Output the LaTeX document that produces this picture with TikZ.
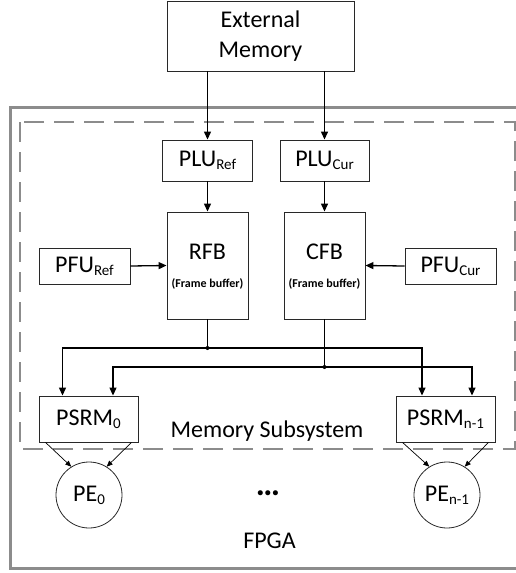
\documentclass[tikz,border=0pt]{standalone}
\usepackage{fontspec}
\setmainfont{Carlito}
\usetikzlibrary{arrows.meta,calc}
\newcommand{\subtxt}[1]{\raisebox{-3pt}{\fontsize{15}{15}\selectfont #1}}
\definecolor{framegray}{RGB}{140,140,140}
\definecolor{boxline}{RGB}{40,40,40}

\begin{document}
\begin{tikzpicture}[x=1pt, y=-1pt,
  box/.style={draw=boxline, line width=0.9pt, inner sep=0pt,
              font=\fontsize{24}{30}\selectfont},
  pecircle/.style={draw=boxline, circle, line width=0.8pt, inner sep=0pt,
                   minimum size=66pt, font=\fontsize{24}{30}\selectfont},
  bigtext/.style={font=\fontsize{24}{30}\selectfont, inner sep=0pt},
  notetext/.style={font=\fontsize{12}{14}\selectfont\bfseries, inner sep=0pt},
  arr/.style={line width=1.3pt, -{Triangle[length=8pt,width=7pt]}},
  thinarr/.style={line width=0.7pt, -{Triangle[length=6pt,width=5pt]}},
  bus/.style={line width=1.3pt},
  fpgaframe/.style={draw=framegray, line width=3pt},
  subframe/.style={draw=framegray, line width=2.5pt, dash pattern=on 20pt off 10pt}
]
\useasboundingbox (0,0) rectangle (516,573);

% FPGA and memory subsystem frames
\draw[fpgaframe] (10,107) rectangle (524,568);
\draw[subframe] (20,122) rectangle (515,449);

% external memory
\node[box, minimum width=187pt, minimum height=70pt, align=center] (ext) at (260.5,36) {External\\Memory};

% line units
\node[box, minimum width=90pt, minimum height=41pt] (plur) at (207.5,160.5) {PLU\subtxt{Ref}};
\node[box, minimum width=89pt, minimum height=41pt] (pluc) at (324.5,160.5) {PLU\subtxt{Cur}};

% frame buffers
\node[box, minimum width=81pt, minimum height=107pt] (rfb) at (207.5,265.5) {};
\node[box, minimum width=81pt, minimum height=107pt] (cfb) at (324.5,265.5) {};
\node[bigtext, anchor=base] (rfbname) at (207.5,259) {RFB};
\node[notetext, anchor=base] (rfbnote) at (207.5,287) {(Frame buffer)};
\node[bigtext, anchor=base] (cfbname) at (324.5,259) {CFB};
\node[notetext, anchor=base] (cfbnote) at (324.5,287) {(Frame buffer)};

% fill units
\node[box, minimum width=91pt, minimum height=36pt] (pfur) at (84.5,266) {PFU\subtxt{Ref}};
\node[box, minimum width=91pt, minimum height=36pt] (pfuc) at (450.5,266) {PFU\subtxt{Cur}};

% search-region memories
\node[box, minimum width=99pt, minimum height=46pt] (psrm0) at (88.5,419) {PSRM\subtxt{0}};
\node[box, minimum width=99pt, minimum height=46pt] (psrmn) at (445.5,419) {PSRM\subtxt{n-1}};

% processing elements
\node[pecircle] (pe0) at (89,495) {PE\subtxt{0}};
\node[pecircle] (pen) at (447,495) {PE\subtxt{n-1}};

% labels
\node[bigtext, anchor=base] (memsub) at (267,437) {Memory Subsystem};
\node[font=\fontsize{34}{34}\selectfont\bfseries, inner sep=0pt] (dots) at (268,493) {…};
\node[bigtext, anchor=base] (fpga) at (269.5,548) {FPGA};

% connections
\draw[arr] (ext.south -| plur.north) -- (plur.north);
\draw[arr] (ext.south -| pluc.north) -- (pluc.north);
\draw[arr] (plur.south) -- (rfb.north);
\draw[arr] (pluc.south) -- (cfb.north);
\draw[arr] (pfur.east) -- (rfb.west);
\draw[arr] (pfuc.west) -- (cfb.east);

\coordinate (j1) at (207.5,348);
\coordinate (j2) at (324.5,367);
\draw[bus] (rfb.south) -- (j1);
\draw[bus] (cfb.south) -- (j2);
\draw[arr] (j1) -| ([xshift=-26pt]psrm0.north);
\draw[arr] (j1) -| ([xshift=-23.5pt]psrmn.north);
\draw[arr] (j2) -| ([xshift=24.5pt]psrm0.north);
\draw[arr] (j2) -| ([xshift=26.5pt]psrmn.north);
\fill (j1) circle (2pt);
\fill (j2) circle (2pt);

\draw[thinarr] ([xshift=7pt]psrm0.south west) -- (pe0.122);
\draw[thinarr] ([xshift=-7pt]psrm0.south east) -- (pe0.58);
\draw[thinarr] ([xshift=7pt]psrmn.south west) -- (pen.122);
\draw[thinarr] ([xshift=-7pt]psrmn.south east) -- (pen.58);
\end{tikzpicture}
\end{document}
